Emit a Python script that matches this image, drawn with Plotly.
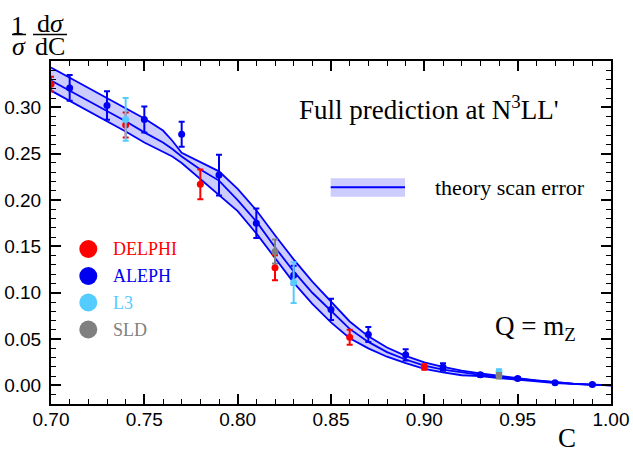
import plotly.graph_objects as go

# ---------------- data ----------------
theory_c = [0.700, 0.710, 0.720, 0.730, 0.740, 0.750, 0.760, 0.765, 0.770, 0.780,
            0.790, 0.800, 0.810, 0.820, 0.830, 0.840, 0.850, 0.860, 0.870, 0.880,
            0.890, 0.900, 0.910, 0.920, 0.930, 0.940, 0.950, 0.960, 0.970, 0.980,
            0.990, 1.000]
theory_upper = [0.343, 0.332, 0.321, 0.310, 0.299, 0.288, 0.275, 0.264, 0.251, 0.241,
                0.231, 0.212, 0.189, 0.162, 0.136, 0.112, 0.091, 0.069, 0.053, 0.041,
                0.032, 0.025, 0.020, 0.016, 0.013, 0.010, 0.0078, 0.0055, 0.0035, 0.0020,
                0.0010, 0.0002]
theory_center = [0.329, 0.318, 0.307, 0.296, 0.285, 0.273, 0.262, 0.255, 0.247, 0.233,
                 0.221, 0.200, 0.177, 0.149, 0.123, 0.100, 0.080, 0.061, 0.047, 0.036,
                 0.028, 0.0215, 0.017, 0.014, 0.0115, 0.009, 0.0072, 0.005, 0.003, 0.0017,
                 0.0008, 0.0001]
theory_lower = [0.318, 0.307, 0.296, 0.285, 0.274, 0.262, 0.252, 0.247, 0.240, 0.223,
                0.205, 0.188, 0.164, 0.137, 0.111, 0.088, 0.068, 0.051, 0.040, 0.031,
                0.024, 0.018, 0.014, 0.011, 0.010, 0.008, 0.0066, 0.0045, 0.0026, 0.0014,
                0.0006, 0.0000]

aleph_c = [0.71, 0.73, 0.75, 0.77, 0.79, 0.81, 0.83, 0.85, 0.87, 0.89, 0.91, 0.93, 0.95, 0.97, 0.99]
aleph_v = [0.321, 0.302, 0.287, 0.271, 0.227, 0.175, 0.119, 0.082, 0.055, 0.033, 0.020, 0.0115, 0.0075, 0.003, 0.001]
aleph_e = [0.014, 0.0155, 0.014, 0.0135, 0.022, 0.016, 0.010, 0.0115, 0.008, 0.006, 0.004, 0.002, 0.0015, 0.001, 0.001]

delphi_c = [0.70, 0.74, 0.78, 0.82, 0.86, 0.90]
delphi_v = [0.325, 0.281, 0.217, 0.127, 0.052, 0.020]
delphi_e = [0.008, 0.0135, 0.016, 0.0135, 0.008, 0.003]

l3_c = [0.74, 0.83, 0.94]
l3_v = [0.287, 0.111, 0.0145]
l3_e = [0.023, 0.022, 0.003]

sld_c = [0.82, 0.94]
sld_v = [0.1445, 0.0105]
sld_e = [0.013, 0.003]

x_ticks = [0.70, 0.75, 0.80, 0.85, 0.90, 0.95, 1.00]
y_ticks = [0.00, 0.05, 0.10, 0.15, 0.20, 0.25, 0.30]

legend_names = ["DELPHI", "ALEPH", "L3", "SLD"]
legend_colors = ["#FF0000", "#0000F0", "#55CCFF", "#808080"]

BLUE = "#0000FF"
BAND = "rgba(0,0,255,0.2)"
SERIF = "Liberation Serif"
SANS = "Liberation Sans"

fig = go.Figure()

# theory band
fig.add_trace(go.Scatter(x=theory_c, y=theory_lower, mode="lines",
                         line=dict(color=BLUE, width=1.8), showlegend=False, hoverinfo="skip"))
fig.add_trace(go.Scatter(x=theory_c, y=theory_upper, mode="lines", fill="tonexty",
                         fillcolor=BAND, line=dict(color=BLUE, width=1.8),
                         showlegend=False, hoverinfo="skip"))
fig.add_trace(go.Scatter(x=theory_c, y=theory_center, mode="lines",
                         line=dict(color=BLUE, width=1.8), showlegend=False, hoverinfo="skip"))


def add_data(cs, vs, es, color):
    fig.add_trace(go.Scatter(
        x=cs, y=vs, mode="markers",
        marker=dict(color=color, size=7),
        error_y=dict(type="data", array=es, color=color, thickness=2, width=3),
        showlegend=False))


add_data(aleph_c, aleph_v, aleph_e, legend_colors[1])
add_data(delphi_c, delphi_v, delphi_e, legend_colors[0])
add_data(l3_c, l3_v, l3_e, legend_colors[2])
add_data(sld_c, sld_v, sld_e, legend_colors[3])

# geometry helpers (pixel -> paper)
L, R, T, B = 51, 611, 61, 404
W, H = R - L, B - T


def px(x):
    return (x - L) / W


def py(y):
    return (B - y) / H


shapes = []
annotations = []

# data legend
leg_y = [249.0, 276.0, 302.5, 329.5]
for name, col, yy in zip(legend_names, legend_colors, leg_y):
    shapes.append(dict(type="circle", xref="paper", yref="paper",
                       xsizemode="pixel", ysizemode="pixel",
                       xanchor=px(88.3), yanchor=py(yy),
                       x0=-9, x1=9, y0=-9, y1=9,
                       fillcolor=col, line=dict(width=0)))
    annotations.append(dict(text=name, x=px(110.7), y=py(yy), xref="paper", yref="paper",
                            xanchor="left", yanchor="middle", showarrow=False,
                            font=dict(family=SERIF, size=18, color=col)))

# theory legend swatch
shapes.append(dict(type="rect", xref="paper", yref="paper",
                   x0=px(330.7), x1=px(405), y0=py(196.7), y1=py(178.3),
                   fillcolor=BAND, line=dict(width=0)))
shapes.append(dict(type="line", xref="paper", yref="paper",
                   x0=px(330.7), x1=px(405), y0=py(187.3), y1=py(187.3),
                   line=dict(color=BLUE, width=2)))
annotations.append(dict(text="theory scan error", x=px(433), y=py(187), xref="paper", yref="paper",
                        xanchor="left", yanchor="middle", showarrow=False,
                        font=dict(family=SERIF, size=22, color="black")))

annotations.append(dict(text="Full prediction at N<sup>3</sup>LL'", x=px(296.7), y=py(108),
                        xref="paper", yref="paper", xanchor="left", yanchor="middle",
                        showarrow=False, font=dict(family=SERIF, size=27, color="black")))
annotations.append(dict(text="Q = m<sub>Z</sub>", x=px(493), y=py(328),
                        xref="paper", yref="paper", xanchor="left", yanchor="middle",
                        showarrow=False, font=dict(family=SERIF, size=27, color="black")))
annotations.append(dict(text="C", x=px(567), y=py(438),
                        xref="paper", yref="paper", xanchor="center", yanchor="middle",
                        showarrow=False, font=dict(family=SERIF, size=27, color="black")))

# y-axis label as fractions
for txt, cx, cy in [("1", 17.5, 25), ("<i>σ</i>", 18.5, 46), ("d<i>σ</i>", 50, 24), ("dC", 50, 46)]:
    annotations.append(dict(text=txt, x=px(cx), y=py(cy), xref="paper", yref="paper",
                            xanchor="center", yanchor="middle", showarrow=False,
                            font=dict(family=SERIF, size=26, color="black")))
for x0, x1 in [(12, 26), (33, 67)]:
    shapes.append(dict(type="line", xref="paper", yref="paper",
                       x0=px(x0), x1=px(x1), y0=py(34.5), y1=py(34.5),
                       line=dict(color="black", width=1.5)))

axis_common = dict(
    showgrid=False, zeroline=False, showline=True, linecolor="black", linewidth=2,
    mirror="allticks", ticks="inside", ticklen=10, tickwidth=1.6, tickcolor="black",
    tickfont=dict(family=SANS, size=19, color="black"), tickformat=".2f",
    automargin=False,
    minor=dict(dtick=0.01, ticks="inside", ticklen=5, tickwidth=1.3, tickcolor="black", showgrid=False),
)

fig.update_layout(
    template="none",
    width=633, height=453,
    margin=dict(l=L, r=633 - R, t=T, b=453 - B, autoexpand=False),
    plot_bgcolor="white", paper_bgcolor="white",
    xaxis=dict(range=[0.70, 1.00], tickvals=x_ticks, ticklabelstandoff=-3, **axis_common),
    yaxis=dict(range=[-0.02, 0.35], tickvals=y_ticks, ticklabelstandoff=4, **axis_common),
    shapes=shapes, annotations=annotations, showlegend=False,
)

fig.write_html("out.html", config={"displayModeBar": False},
               post_script="document.body.style.margin='0';document.body.style.padding='0';")
